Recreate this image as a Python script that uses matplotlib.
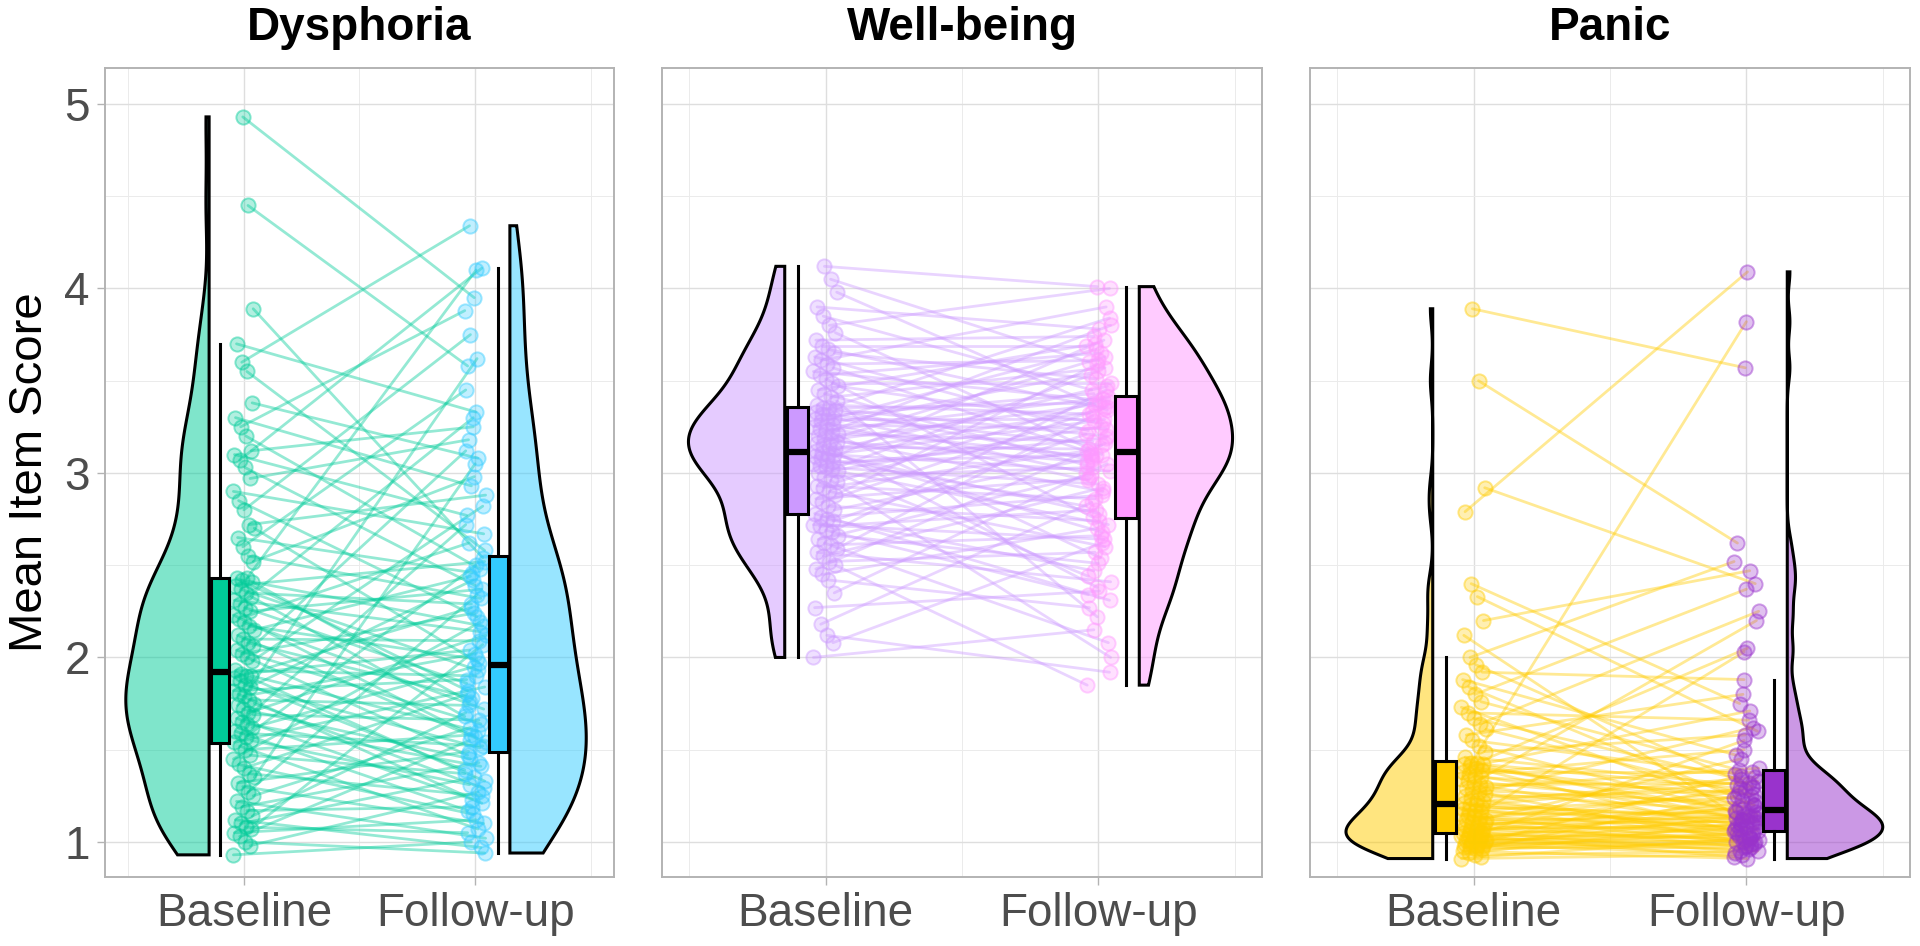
# raincloud plot: baseline vs follow-up, three scales
import numpy as np
import matplotlib
matplotlib.use("Agg")
import matplotlib.pyplot as plt
from matplotlib.patches import Polygon

plt.rcParams['font.family'] = ['Liberation Sans', 'DejaVu Sans']

# ---- data ----
groups = ["Baseline", "Follow-up"]
titles = ["Dysphoria", "Well-being", "Panic"]

dys_base = [0.93, 0.98, 1.00, 1.03, 1.05, 1.07, 1.08, 1.10, 1.12, 1.14, 1.17, 1.19,
            1.22, 1.25, 1.27, 1.30, 1.32, 1.35, 1.37, 1.40, 1.42, 1.45, 1.47, 1.50,
            1.52, 1.54, 1.55, 1.57, 1.59, 1.60, 1.62, 1.64, 1.65, 1.67, 1.69, 1.70,
            1.72, 1.74, 1.75, 1.77, 1.79, 1.80, 1.82, 1.84, 1.85, 1.87, 1.89, 1.90,
            1.90, 1.91, 1.93, 1.98, 2.00, 2.02, 2.04, 2.06, 2.08, 2.10, 2.12, 2.15, 2.17,
            2.19, 2.21, 2.23, 2.25, 2.27, 2.29, 2.31, 2.33, 2.35, 2.37, 2.39, 2.41, 2.43,
            2.42, 2.43, 2.52, 2.55, 2.60, 2.65, 2.70, 2.72, 2.80, 2.85, 2.90, 2.97,
            3.03, 3.07, 3.10, 3.12, 3.20, 3.25, 3.30, 3.38,
            3.55, 3.60, 3.70,
            3.89, 4.45, 4.93]
dys_follow = [1.00, 1.27, 0.94, 1.55, 1.12, 2.07, 1.05, 1.35, 0.97, 1.70, 1.19, 1.43,
              1.02, 1.62, 2.34, 1.10, 1.49, 3.05, 1.25, 1.80, 1.15, 2.19, 1.37, 1.58,
              1.07, 1.84, 1.31, 2.50, 1.52, 1.17, 1.95, 1.41, 2.72, 1.23, 1.66, 2.12,
              1.45, 3.62, 1.29, 1.74, 2.02, 1.21, 1.88, 2.42, 1.51, 1.39, 2.27, 1.60,
              1.33, 2.04, 1.90, 2.82, 1.47, 2.24, 1.64, 3.12, 1.78, 2.09, 1.54, 2.44, 1.99,
              1.72, 2.62, 1.57, 2.37, 1.86, 3.30, 2.14, 1.68, 2.29, 1.93, 2.52, 1.76, 4.10,
              2.17, 1.82, 2.98, 2.32, 3.45, 2.46, 1.97, 2.88, 3.75, 2.22, 2.67, 3.18,
              2.39, 4.11, 2.77, 3.25, 2.48, 3.88, 2.93, 3.08,
              2.58, 4.34, 3.33,
              2.54, 3.58, 3.95]

wb_base = [2.00, 2.08, 2.12, 2.18, 2.27, 2.35,
           2.42, 2.45, 2.48, 2.50, 2.52, 2.55, 2.57, 2.59, 2.61, 2.62, 2.64, 2.66, 2.68,
           2.69, 2.71, 2.72, 2.74, 2.75, 2.76,
           2.78, 2.80, 2.82, 2.84, 2.86, 2.88, 2.90, 2.92, 2.93, 2.95, 2.96, 2.98, 3.00,
           3.01, 3.02, 3.03, 3.04, 3.05, 3.06, 3.07, 3.08, 3.09, 3.10, 3.10, 3.11,
           3.12, 3.13, 3.14, 3.15, 3.16, 3.17, 3.18, 3.19, 3.20, 3.21, 3.22, 3.23, 3.24,
           3.25, 3.26, 3.27, 3.28, 3.29, 3.30, 3.31, 3.32, 3.33, 3.34, 3.35, 3.35,
           3.37, 3.39, 3.41, 3.43, 3.45, 3.47, 3.49, 3.51, 3.53, 3.55, 3.57, 3.59, 3.61,
           3.63, 3.65, 3.67, 3.69,
           3.72, 3.76, 3.80, 3.85, 3.90, 3.98, 4.05, 4.12]
wb_follow = [2.15, 2.62, 1.92, 2.84, 2.36, 3.05,
             2.27, 2.70, 3.16, 1.85, 2.57, 2.92, 2.41, 3.31, 2.66, 2.08, 2.99, 2.51, 3.45,
             2.34, 2.80, 2.64, 3.21, 2.47, 2.88,
             2.31, 3.08, 2.74, 3.36, 2.97, 3.59, 2.60, 3.12, 2.86, 3.40, 2.00, 3.03, 3.25,
             2.72, 3.53, 2.94, 3.19, 2.44, 3.10, 3.72, 2.82, 3.28, 2.68, 3.01, 3.33,
             2.78, 3.47, 3.13, 2.38, 3.63, 3.06, 3.37, 2.90, 3.80, 3.17, 2.54, 3.41, 3.09,
             3.55, 3.24, 2.96, 3.67, 3.29, 3.00, 3.43, 3.15, 3.84, 3.07, 3.38, 3.20,
             3.32, 2.22, 3.57, 3.04, 3.70, 3.27, 3.49, 2.76, 3.65, 3.39, 3.11, 3.61, 3.90,
             3.23, 3.51, 3.35, 3.69,
             3.74, 3.10, 4.00, 3.45, 3.78, 3.34, 3.60, 4.01]

pan_base = [0.91, 0.92, 0.93, 0.94, 0.95, 0.96, 0.96, 0.97, 0.97, 0.98, 0.98, 0.99, 0.99,
            1.00, 1.00, 1.00, 1.01, 1.01, 1.02, 1.02, 1.02, 1.03, 1.03, 1.03, 1.04,
            1.05, 1.05, 1.06, 1.06, 1.07, 1.07, 1.08, 1.08, 1.09, 1.10, 1.10, 1.11, 1.12,
            1.12, 1.13, 1.14, 1.14, 1.15, 1.16, 1.17, 1.17, 1.18, 1.19, 1.20, 1.20,
            1.21, 1.22, 1.23, 1.24, 1.25, 1.26, 1.27, 1.28, 1.29, 1.30, 1.31, 1.32, 1.33,
            1.34, 1.35, 1.36, 1.37, 1.38, 1.39, 1.40, 1.41, 1.42, 1.42, 1.43, 1.43,
            1.46, 1.49, 1.52, 1.55, 1.58, 1.61, 1.64, 1.67, 1.70, 1.73, 1.76, 1.80, 1.84,
            1.88, 1.92, 1.96, 2.00,
            2.12, 2.20, 2.33, 2.40,
            2.79, 2.92, 3.50, 3.89]
pan_follow = [0.93, 1.02, 0.95, 1.10, 0.91, 1.00, 1.25, 0.97, 1.05, 0.94, 1.14, 0.99, 1.01,
              1.36, 0.96, 1.08, 1.03, 0.98, 1.20, 1.00, 1.55, 1.04, 0.92, 1.12, 1.02,
              1.06, 0.95, 1.15, 1.22, 1.09, 1.01, 1.30, 1.07, 1.18, 0.97, 1.11, 1.45, 1.04,
              1.13, 1.27, 1.08, 0.99, 1.16, 2.03, 1.10, 1.24, 1.03, 1.14, 1.33, 1.07,
              1.12, 1.35, 1.05, 1.28, 1.62, 1.17, 1.00, 1.21, 1.40, 1.09, 1.32, 2.20, 1.19,
              3.82, 1.26, 1.13, 1.50, 1.38, 1.06, 1.23, 1.71, 1.15, 1.29, 2.05, 1.11,
              1.31, 1.58, 1.14, 1.37, 1.80, 1.25, 2.25, 1.34, 1.66, 1.16, 1.39, 2.37, 1.20,
              1.47, 1.88, 1.30, 2.52,
              1.12, 2.47, 1.60, 1.75,
              4.09, 2.40, 2.62, 3.57]

panel_data = [(dys_base, dys_follow), (wb_base, wb_follow), (pan_base, pan_follow)]
panel_colors = [("#00CC99", "#33CCFF"), ("#CC99FF", "#FF99FF"), ("#FFCC00", "#9933CC")]
violin_width = [(0.36, 0.33), (0.353, 0.342), (0.318, 0.35)]


def kde(vals, grid, adjust=0.85):
    v = np.asarray(vals)
    n = len(v)
    q75, q25 = np.percentile(v, [75, 25])
    bw = 0.9 * min(v.std(ddof=1), (q75 - q25) / 1.34) * n ** -0.2 * adjust
    d = np.exp(-0.5 * ((grid[:, None] - v[None, :]) / bw) ** 2).sum(axis=1)
    return d / (n * bw * np.sqrt(2 * np.pi))


def half_violin(ax, vals, edge, side, width, color):
    grid = np.linspace(min(vals), max(vals), 400)
    d = kde(vals, grid)
    xs = edge + side * d / d.max() * width
    px = np.concatenate([[edge], xs, [edge]])
    py = np.concatenate([[grid[0]], grid, [grid[-1]]])
    poly = Polygon(np.column_stack([px, py]), closed=True,
                   facecolor=matplotlib.colors.to_rgba(color, 0.5),
                   edgecolor='black', lw=2.2, zorder=2)
    ax.add_patch(poly)


fig = plt.figure(figsize=(19.2, 9.46), dpi=100)
lefts = [105, 662, 1310]
wpx = [509, 600, 600]

for k in range(3):
    ax = fig.add_axes([lefts[k] / 1920, 1 - 877 / 946, wpx[k] / 1920, 809 / 946])
    base, follow = panel_data[k]
    cb, cf = panel_colors[k]
    n = len(base)
    idx = np.arange(n)
    # fixed horizontal spread of the points around each group
    xb = 1 + ((idx * 37) % 21 - 10) / 10 * 0.045
    xf = 2 + ((idx * 53 + 7) % 23 - 11) / 11 * 0.045

    half_violin(ax, base, 0.85, -1, violin_width[k][0], cb)
    half_violin(ax, follow, 2.15, 1, violin_width[k][1], cf)

    for i in range(n):
        ax.plot([xb[i], xf[i]], [base[i], follow[i]], color=cb, alpha=0.42,
                lw=2.0, zorder=3, solid_capstyle='round')
    ax.scatter(xb, base, s=105, facecolor=matplotlib.colors.to_rgba(cb, 0.3),
               edgecolor=matplotlib.colors.to_rgba(cb, 0.45), lw=1.4, zorder=4)
    ax.scatter(xf, follow, s=105, facecolor=matplotlib.colors.to_rgba(cf, 0.3),
               edgecolor=matplotlib.colors.to_rgba(cf, 0.45), lw=1.4, zorder=4)

    bp = ax.boxplot([base, follow], positions=[0.897, 2.10], widths=0.08,
                    patch_artist=True, showfliers=False, showcaps=False,
                    manage_ticks=False, zorder=5,
                    boxprops=dict(edgecolor='black', lw=2.2),
                    whiskerprops=dict(color='black', lw=2.2),
                    medianprops=dict(color='black', lw=4.5))
    for patch, c in zip(bp['boxes'], (cb, cf)):
        patch.set_facecolor(c)

    ax.set_xlim(0.4, 2.6)
    ax.set_ylim(0.81, 5.195)
    ax.set_xticks([1, 2])
    ax.set_xticklabels(groups)
    ax.set_xticks([0.5, 1.5, 2.5], minor=True)
    ax.set_yticks([1, 2, 3, 4, 5])
    ax.set_yticks([1.5, 2.5, 3.5, 4.5], minor=True)
    ax.grid(which='major', color='#DEDEDE', lw=1.0)
    ax.grid(which='minor', color='#EBEBEB', lw=0.7)
    ax.set_axisbelow(True)
    for sp in ax.spines.values():
        sp.set_color('#B3B3B3')
        sp.set_linewidth(1.4)
    ax.tick_params(which='major', length=6, width=1.0, color='#B3B3B3',
                   labelsize=33, labelcolor='#4D4D4D', pad=5)
    ax.tick_params(which='minor', length=0)
    if k == 0:
        ax.set_ylabel("Mean Item Score", fontsize=34)
        ax.yaxis.set_label_coords(-0.105, 0.5)
    else:
        ax.tick_params(axis='y', left=False, labelleft=False)
    ax.set_title(titles[k], fontsize=33, fontweight='bold', pad=20)

fig.savefig("out.png", dpi=100)
